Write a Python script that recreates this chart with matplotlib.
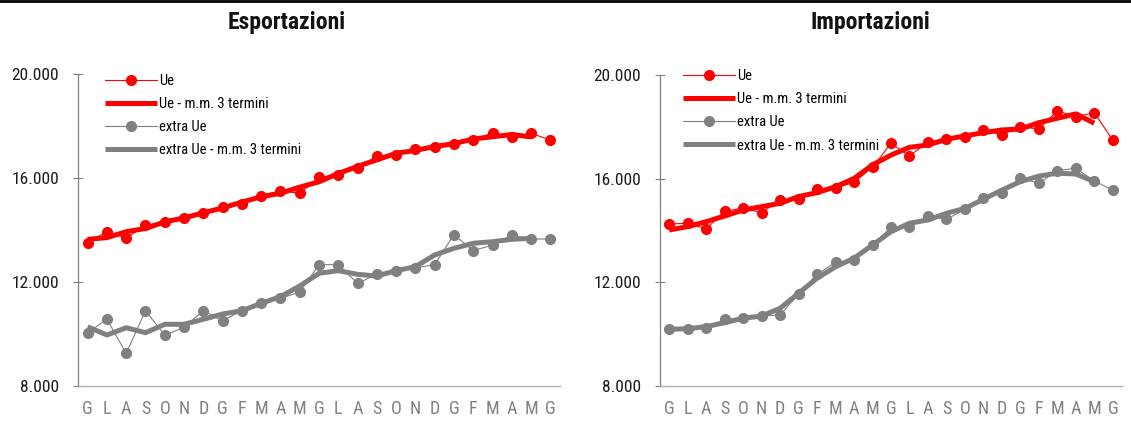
import numpy as np
import matplotlib
matplotlib.use("Agg")
import matplotlib.pyplot as plt
from matplotlib.lines import Line2D
from matplotlib import font_manager

months = ["G", "L", "A", "S", "O", "N", "D", "G", "F", "M", "A", "M",
          "G", "L", "A", "S", "O", "N", "D", "G", "F", "M", "A", "M", "G"]

exp_ue = [13510, 13935, 13680, 14190, 14300, 14450, 14640, 14900, 15000, 15320,
          15510, 15410, 16030, 16120, 16370, 16850, 16870, 17130, 17190, 17310,
          17460, 17740, 17560, 17720, 17460]
exp_ue_ma = [13640, 13708, 13935, 14057, 14313, 14463, 14663, 14847, 15073, 15277,
             15413, 15650, 15853, 16173, 16447, 16697, 16950, 17063, 17210, 17320,
             17503, 17587, 17673, 17580, np.nan]
exp_ext = [10050, 10565, 9257, 10896, 9950, 10257, 10896, 10510, 10896, 11205,
           11372, 11610, 12667, 12667, 11950, 12295, 12435, 12540, 12667, 13820,
           13205, 13423, 13796, 13654, 13654]
exp_ext_ma = [10280, 9960, 10242, 10050, 10373, 10373, 10565, 10770, 10896, 11180,
              11435, 11846, 12335, 12435, 12295, 12230, 12435, 12590, 13040, 13295,
              13490, 13550, 13642, 13680, np.nan]

imp_ue = [14250, 14280, 14060, 14750, 14860, 14690, 15180, 15215, 15590, 15630,
          15860, 16440, 17365, 16875, 17415, 17540, 17620, 17880, 17685, 18005,
          17915, 18620, 18390, 18545, 17490]
imp_ue_ma = [14020, 14150, 14340, 14560, 14790, 14920, 15050, 15310, 15460, 15690,
             16010, 16530, 16910, 17210, 17300, 17520, 17650, 17775, 17880, 17915,
             18160, 18330, 18500, 18140, np.nan]
imp_ext = [10190, 10210, 10225, 10575, 10615, 10700, 10740, 11550, 12310, 12775,
           12860, 13440, 14125, 14125, 14560, 14430, 14820, 15240, 15460, 16015,
           15820, 16310, 16400, 15910, 15560]
imp_ext_ma = [10190, 10210, 10290, 10445, 10615, 10700, 11000, 11580, 12160, 12600,
              12930, 13440, 13955, 14280, 14405, 14665, 14855, 15205, 15560, 15885,
              16100, 16210, 16180, 15885, np.nan]

yticks = [8000, 12000, 16000, 20000]
ytick_labels = ["8.000", "12.000", "16.000", "20.000"]
labels = ["Ue", "Ue - m.m. 3 termini", "extra Ue", "extra Ue - m.m. 3 termini"]
titles = ["Esportazioni", "Importazioni"]

names = {f.name for f in font_manager.fontManager.ttflist}
narrow = "Liberation Sans"
for cand in ["Liberation Sans Narrow", "Arial Narrow", "Roboto Condensed",
             "Archivo Narrow", "PT Sans Narrow", "Arimo"]:
    if cand in names:
        narrow = cand
        break
plt.rcParams['font.family'] = [narrow, 'DejaVu Sans']

RED = "#ff0000"
GRAY = "#808080"

W, H = 1131, 421
fig = plt.figure(figsize=(W / 100, H / 100), dpi=100)

LEG_FS = 10.5


def make_axes(x0, x1, ytop, ybot, ue, ue_ma, ext, ext_ma, leg_xy):
    ax = fig.add_axes([x0 / W, (H - ybot) / H, (x1 - x0) / W, (ybot - ytop) / H])
    x = np.arange(len(months))
    ax.plot(x, ue, color=RED, lw=0.8, marker="o", ms=7, label=labels[0], zorder=3)
    ax.plot(x, ue_ma, color=RED, lw=3.6, label=labels[1], zorder=4,
            solid_capstyle="butt")
    ax.plot(x, ext, color=GRAY, lw=0.8, marker="o", ms=7, label=labels[2], zorder=3)
    ax.plot(x, ext_ma, color=GRAY, lw=3.6, label=labels[3], zorder=4,
            solid_capstyle="butt")
    ax.set_xlim(-0.5, len(months) - 0.5)
    ax.set_ylim(8000, 20000)
    ax.set_yticks(yticks)
    ax.set_yticklabels(ytick_labels)
    ax.set_xticks(x)
    ax.set_xticklabels(months)
    for s in ["top", "right"]:
        ax.spines[s].set_visible(False)
    ax.spines["left"].set_color(GRAY)
    ax.spines["left"].set_linewidth(0.9)
    ax.spines["bottom"].set_color("#b0b0b0")
    ax.spines["bottom"].set_linewidth(1.0)
    ax.tick_params(axis="y", direction="inout", length=7, width=0.8, color=GRAY,
                   labelsize=12.5, pad=10, labelcolor="#1a1a1a")
    ax.tick_params(axis="x", length=0, labelsize=13, pad=10, labelcolor=GRAY)
    ax.legend(loc="upper left", bbox_to_anchor=leg_xy, frameon=False,
              fontsize=LEG_FS, handlelength=52 / (LEG_FS * 100 / 72),
              handletextpad=0.15, labelspacing=0.62, borderpad=0, borderaxespad=0)
    return ax


make_axes(78, 560, 74, 386, exp_ue, exp_ue_ma, exp_ext, exp_ext_ma,
          ((105 - 78) / 482, 1.0))
make_axes(660, 1122, 75, 386, imp_ue, imp_ue_ma, imp_ext, imp_ext_ma,
          ((683 - 660) / 462, 1.018))

fig.text(286.5 / W, 1 - 23 / H, titles[0], ha="center", va="center",
         fontsize=17, fontweight="bold", color="#111111")
fig.text(870.5 / W, 1 - 23 / H, titles[1], ha="center", va="center",
         fontsize=17, fontweight="bold", color="#111111")

fig.add_artist(Line2D([0, 1], [1 - 1.2 / H, 1 - 1.2 / H], transform=fig.transFigure,
                      color="black", lw=2.0))

fig.savefig("out.png", dpi=100)
